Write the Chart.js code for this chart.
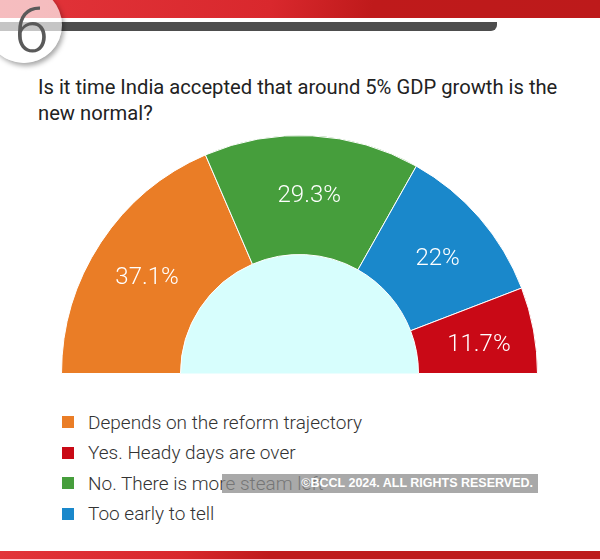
<!DOCTYPE html>
<html>
<head>
<meta charset="utf-8">
<script src="https://cdn.jsdelivr.net/npm/chart.js@4.4.1/dist/chart.umd.min.js"></script>
<style>
    body { margin: 0; width: 600px; height: 559px; background: #fff; font-family: Roboto, "Noto Sans", sans-serif; overflow: hidden; position: relative; }
    .top-band { position: absolute; left: 0; top: 0; width: 600px; height: 18px; background: linear-gradient(100deg, #e2343a 0%, #d9282d 45%, #bf1a1b 62%, #bd1a1b 100%); }
    .top-bar { position: absolute; left: 0; top: 22px; width: 497px; height: 9px; background: #4d4d4d; border-radius: 0 0 6px 0; }
    .badge { position: absolute; left: -14px; top: -13px; width: 76px; height: 76px; border-radius: 50%; background: rgba(255,255,255,0.68); box-shadow: 2px 3px 5px rgba(0,0,0,0.35); }
    .badge-num { position: absolute; left: 14px; top: -4px; font-size: 63px; font-weight: 300; color: #5a5a5a; line-height: 70px; }
    .title { position: absolute; left: 38px; top: 74px; width: 535px; font-size: 20.2px; line-height: 26px; color: #222; }
    .chart-box { position: absolute; left: 61px; top: 135px; width: 477px; height: 239px; }
    .legend { position: absolute; left: 62px; top: 407px; }
    .legend-row { height: 30.5px; display: flex; align-items: center; font-size: 19px; font-weight: 300; color: #333; }
    .legend-row i { width: 12px; height: 12px; margin-right: 14px; display: inline-block; }
    .watermark { position: absolute; left: 222px; top: 474px; width: 311px; padding-right: 5px; height: 19px; background: rgba(140,140,140,0.75); color: #fff; font-family: "Liberation Sans", Arial, sans-serif; font-weight: bold; font-size: 12.5px; line-height: 19px; text-align: right; }
    .bottom-band { position: absolute; left: 0; top: 551px; width: 600px; height: 8px; background: linear-gradient(100deg, #e2343a 0%, #d9282d 30%, #bf1a1b 45%, #bd1a1b 100%); }
</style>
</head>
<body>
<div class="top-band"></div>
<div class="top-bar"></div>
<div class="badge"></div>
<div class="badge-num">6</div>
<div class="title">Is it time India accepted that around 5% GDP growth is the new normal?</div>
<div class="chart-box"><canvas id="pollChart"></canvas></div>
<div class="legend" id="legend"></div>
<div class="watermark">©BCCL 2024. ALL RIGHTS RESERVED.</div>
<div class="bottom-band"></div>

<script>
// slices in drawing order, left to right round the half circle
const labels = ["Depends on the reform trajectory", "No. There is more steam left", "Too early to tell", "Yes. Heady days are over"];
const shares = [37.1, 29.3, 22, 11.7];
const colors = ["#ea7d26", "#469e3c", "#1a88cb", "#c90916"];
// legend lists them in a different order
const legendOrder = [0, 3, 1, 2];

const holeFill = {
    id: "holeFill",
    beforeDatasetsDraw(chart) {
        const arc = chart.getDatasetMeta(0).data[0];
        if (!arc) return;
        const { x, y, innerRadius } = arc.getProps(["x", "y", "innerRadius"], true);
        const c = chart.ctx;
        c.save();
        c.fillStyle = "#d7fefd";
        c.beginPath();
        c.arc(x, y, innerRadius, Math.PI, 2 * Math.PI);
        c.closePath();
        c.fill();
        c.restore();
    }
};

// percentage text inside each slice, a little outside the mid radius
const sliceLabels = {
    id: "sliceLabels",
    afterDatasetsDraw(chart) {
        const c = chart.ctx;
        c.save();
        c.fillStyle = "#fff";
        c.font = "300 24px Roboto";
        c.textAlign = "center";
        c.textBaseline = "middle";
        chart.getDatasetMeta(0).data.forEach((arc, i) => {
            const { x, y, startAngle, endAngle, innerRadius, outerRadius } =
                arc.getProps(["x", "y", "startAngle", "endAngle", "innerRadius", "outerRadius"], true);
            const mid = (startAngle + endAngle) / 2;
            const r = (innerRadius + outerRadius) / 2 + 4;
            c.fillText(shares[i] + "%", x + Math.cos(mid) * r, y + Math.sin(mid) * r + 5);
        });
        c.restore();
    }
};

new Chart(document.getElementById("pollChart"), {
    type: "doughnut",
    data: {
        labels: labels,
        datasets: [{
            data: shares,
            backgroundColor: colors,
            borderColor: "#fff",
            borderWidth: 1
        }]
    },
    options: {
        responsive: true,
        maintainAspectRatio: false,
        animation: false,
        rotation: -90,
        circumference: 180,
        cutout: "50%",
        layout: { padding: 0 },
        plugins: {
            legend: { display: false },
            tooltip: { enabled: false }
        }
    },
    plugins: [holeFill, sliceLabels]
});

document.getElementById("legend").innerHTML = legendOrder.map(i => `
    <div class="legend-row"><i style="background:${colors[i]}"></i>${labels[i]}</div>
`).join("");
</script>
</body>
</html>
